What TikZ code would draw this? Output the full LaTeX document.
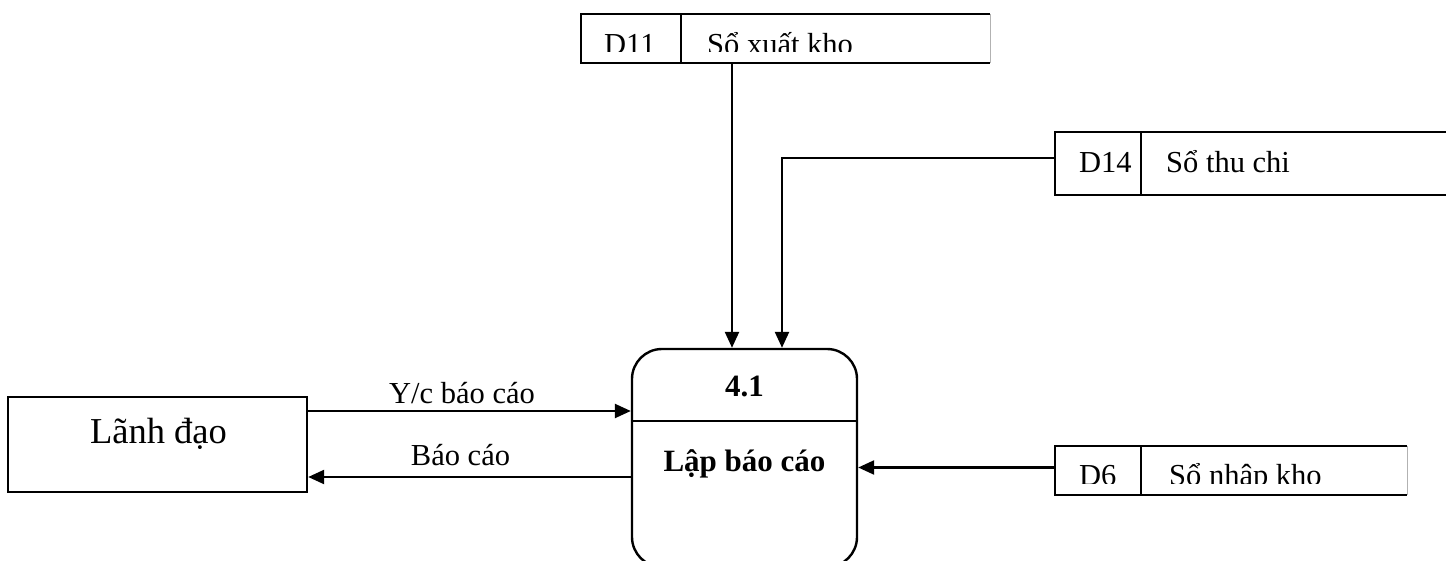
\documentclass[tikz,border=0pt]{standalone}
\usepackage{fontspec}
\setmainfont{Liberation Serif}
\usetikzlibrary{arrows.meta}

\begin{document}
\begin{tikzpicture}[x=0.5pt, y=-0.5pt, line width=1.2pt,
    >={Triangle[length=8pt,width=7pt]},
    every node/.style = {inner sep=0pt, font=\fontsize{15.25}{18}\selectfont},
    process/.style = {draw, rounded corners=15pt,
      minimum width=112.5pt, minimum height=109pt},
    entity/.style = {draw, minimum width=149.5pt, minimum height=47.5pt},
    store/.style = {minimum height=23.5pt},
    ptext/.style = {anchor=base, font=\bfseries\fontsize{15.5}{18}\selectfont}]
    \clip (0,0) rectangle (1446,561);

    % process and entity
    \node[process] (proc) at (744.5,458) {};
    \draw (proc.west |- 0,421) -- (proc.east |- 0,421);
    \node[ptext] (procnum) at (744.5,396) {4.1};
    \node[ptext] (procname) at (744.5,471) {Lập báo cáo};
    \node[entity] (lanh) at (157.5,444.5) {};
    \node[anchor=base, font=\fontsize{18.25}{22}\selectfont] (lanhname) at (158.5,443) {Lãnh đạo};

    % data stores
    \node[store, minimum width=203.5pt] (d11) at (785.5,38.5) {};
    \node[store, minimum width=202pt, minimum height=30.5pt] (d14) at (1258,163.5) {};
    \node[store, minimum width=175pt] (d6) at (1231,470.5) {};
    \foreach \s/\dx in {d11/50pt, d14/43pt, d6/43pt} {
      \draw (\s.north east) -- (\s.north west) -- (\s.south west) -- (\s.south east);
      \draw ([xshift=\dx]\s.north west) -- ([xshift=\dx]\s.south west);
    }
    \draw[line width=0.5pt, gray!60] (d11.north east) -- (d11.south east);
    \draw[line width=0.5pt, gray!60] (d6.north east) -- (d6.south east);
    \node[anchor=base west] (d14id) at (1078,173) {D14};
    \node[anchor=base west] (d14name) at (1165,173) {Sổ thu chi};
    \begin{scope}
      \clip (582,15) rectangle (989,52);
      \node[anchor=base west] (d11id) at (603,55) {D11};
      \node[anchor=base west] (d11name) at (706,55) {Sổ xuất kho};
    \end{scope}
    \begin{scope}
      \clip (1056,447) rectangle (1406,483);
      \node[anchor=base west] (d6id) at (1078,485) {D6};
      \node[anchor=base west] (d6name) at (1168,485) {Sổ nhập kho};
    \end{scope}

    % flows
    \draw[->] ([xshift=-6.25pt]proc.north |- d11.south) -- ([xshift=-6.25pt]proc.north);
    \draw[->] ([yshift=2.75pt]d14.west) -| ([xshift=18.75pt]proc.north);
    \draw[->] ([yshift=1.5pt]d6.west) -- ([yshift=1.5pt]d6.west -| proc.east);
    \draw[->] ([yshift=16.75pt]lanh.east) -- ([yshift=16.75pt]lanh.east -| proc.west);
    \draw[->] ([yshift=-16.25pt]lanh.east -| proc.west) -- ([yshift=-16.25pt]lanh.east);
    \node[anchor=base] (yclabel) at (462,403) {Y/c báo cáo};
    \node[anchor=base] (bclabel) at (460.5,465) {Báo cáo};
  \end{tikzpicture}
\end{document}
